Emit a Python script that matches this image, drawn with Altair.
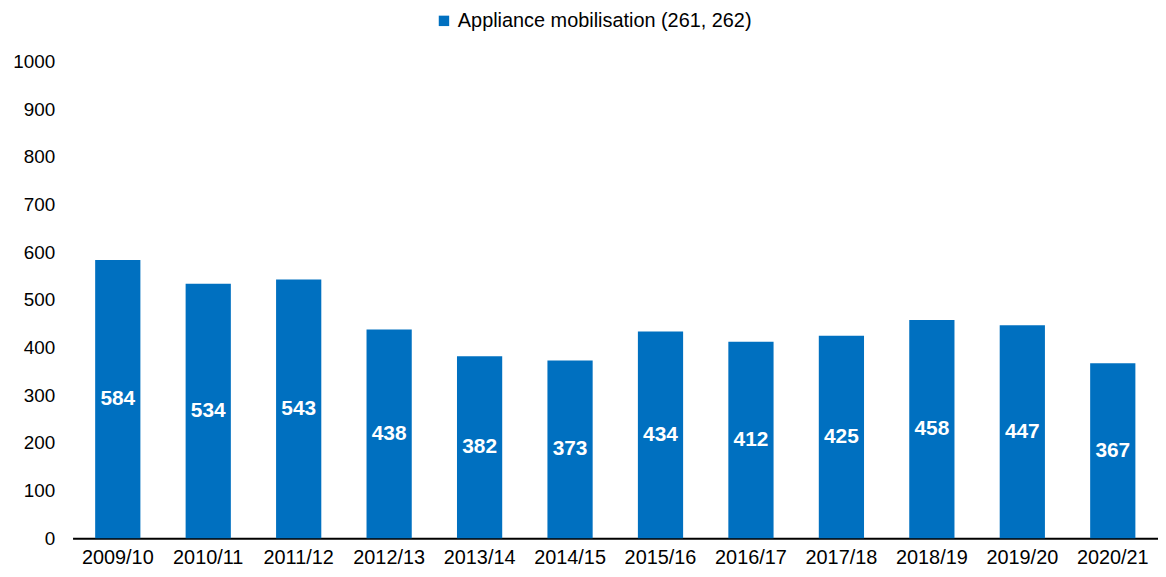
import altair as alt
import pandas as pd

years = ["2009/10", "2010/11", "2011/12", "2012/13", "2013/14", "2014/15",
         "2015/16", "2016/17", "2017/18", "2018/19", "2019/20", "2020/21"]
values = [584, 534, 543, 438, 382, 373, 434, 412, 425, 458, 447, 367]
series = "Appliance mobilisation (261, 262)"

df = pd.DataFrame({"year": years, "value": values, "series": [series] * len(years)})
df["mid"] = df["value"] / 2

FONT = "Liberation Sans"
BLUE = "#0070C0"

base = alt.Chart(df)

bars = base.mark_bar(color=BLUE).encode(
    x=alt.X("year:N", sort=years, title=None,
            scale=alt.Scale(paddingInner=0.5, paddingOuter=0.25),
            axis=alt.Axis(labelAngle=0, labelFontSize=20, labelFont=FONT, labelColor="#000",
                          ticks=False, domainColor="#000", domainWidth=2, labelPadding=9)),
    y=alt.Y("value:Q", title=None,
            scale=alt.Scale(domain=[0, 1000]),
            axis=alt.Axis(values=list(range(0, 1001, 100)), format="d", grid=False, domain=False,
                          ticks=False, labelFontSize=19, labelFont=FONT, labelColor="#000",
                          labelPadding=18)),
    fill=alt.Fill("series:N", scale=alt.Scale(range=[BLUE]),
                  legend=alt.Legend(title=None, orient="none", legendX=364, legendY=-51,
                                    symbolType="square", symbolSize=110, labelFontSize=20,
                                    labelFont=FONT, labelColor="#000", symbolStrokeWidth=0,
                                    labelLimit=500)),
)

labels = base.mark_text(color="white", fontWeight="bold", fontSize=21, font=FONT).encode(
    x=alt.X("year:N", sort=years),
    y=alt.Y("mid:Q"),
    text=alt.Text("value:Q"),
)

chart = (bars + labels).properties(
    width=1093, height=480,
    autosize=alt.AutoSizeParams(type="none"),
    padding={"left": 65, "top": 52, "right": 0, "bottom": 30},
).configure_view(stroke=None)

chart.save("out.html", embed_options={"renderer": "svg", "actions": False})
